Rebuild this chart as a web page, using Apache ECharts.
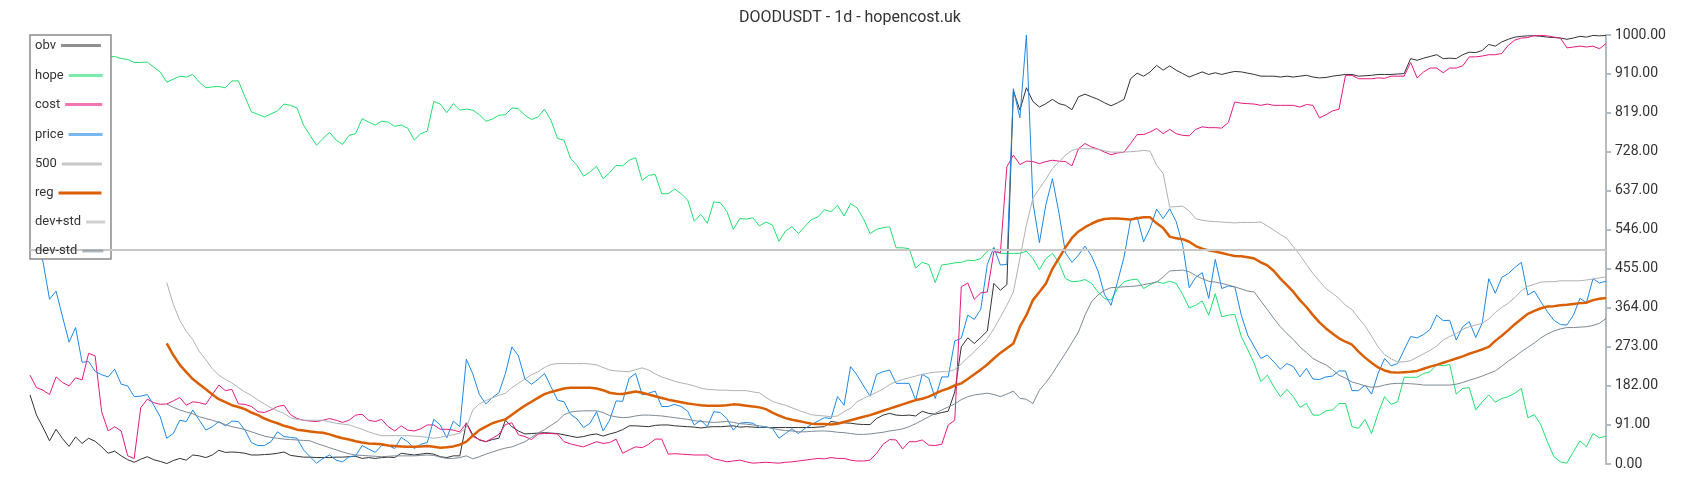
<!DOCTYPE html>
<html>
<head>
<meta charset="utf-8">
<title>DOODUSDT - 1d - hopencost.uk</title>
<script src="https://cdn.jsdelivr.net/npm/echarts@6/dist/echarts.min.js"></script>
<style>
  html, body { margin: 0; padding: 0; background: #fff; }
  #chart { width: 1700px; height: 500px; }
</style>
</head>
<body>
<div id="chart"></div>
<script>
// values, one per day (243 days)
const obv = [
  161, 114, 85, 54, 81, 59, 41, 63, 48, 60,
  53, 40, 25, 30, 19, 10, 4, 11, 17, 10,
  6, 1, 8, 13, 9, 21, 19, 15, 21, 32,
  27, 28, 27, 25, 21, 21, 22, 23, 25, 28,
  20, 18, 16, 16, 15, 15, 15, 16, 16, 17,
  18, 13, 15, 13, 15, 16, 15, 25, 23, 21,
  23, 25, 23, 17, 15, 19, 19, 96, 68, 56,
  52, 57, 60, 102, 87, 77, 70, 71, 72, 73,
  72, 71, 68, 65, 62, 64, 68, 70, 65, 70,
  74, 80, 89, 89, 88, 87, 90, 91, 91, 89,
  88, 87, 86, 84, 86, 87, 87, 88, 89, 86,
  87, 86, 85, 85, 85, 85, 85, 85, 85, 85,
  85, 86, 87, 99, 97, 96, 95, 93, 92, 92,
  106, 114, 118, 114, 113, 114, 112, 123, 118, 116,
  120, 123, 168, 273, 294, 281, 295, 310, 421, 405,
  418, 870, 825, 877, 845, 832, 840, 850, 840, 836,
  826, 856, 862, 856, 850, 842, 835, 842, 850, 898,
  911, 904, 914, 929, 918, 928, 918, 910, 902, 908,
  914, 908, 912, 908, 912, 915, 914, 911, 908, 904,
  904, 904, 902, 904, 902, 904, 906, 902, 900, 901,
  904, 906, 908, 908, 904, 905, 906, 908, 908, 908,
  909, 910, 945, 941, 946, 950, 954, 945, 946, 945,
  954, 960, 959, 964, 978, 974, 984, 990, 995, 997,
  998, 998, 997, 995, 994, 993, 990, 993, 997, 995,
  999, 998, 999
];

const hope = [
  990, 985, 980, 978, 975, 970, 968, 965, 962, 958,
  955, 952, 949, 950, 945, 943, 936, 936, 937, 925,
  914, 890, 897, 904, 902, 908, 890, 877, 879, 880,
  877, 893, 893, 856, 821, 815, 809, 816, 823, 839,
  836, 830, 790, 766, 743, 759, 773, 755, 745, 766,
  770, 805, 797, 790, 799, 797, 787, 790, 783, 755,
  770, 776, 845, 839, 819, 840, 825, 827, 825, 814,
  799, 804, 813, 814, 830, 828, 813, 803, 809, 827,
  801, 759, 755, 712, 696, 671, 681, 694, 665, 679,
  696, 695, 708, 714, 661, 673, 675, 630, 630, 641,
  630, 615, 566, 582, 561, 611, 609, 589, 547, 572,
  571, 574, 555, 564, 557, 519, 543, 553, 537, 554,
  570, 576, 593, 588, 603, 578, 607, 597, 571, 537,
  547, 551, 553, 504, 504, 502, 457, 470, 465, 423,
  464, 466, 469, 470, 475, 474, 479, 496, 502, 491,
  491, 491, 491, 496, 479, 453, 479, 491, 469, 432,
  425, 426, 430, 421, 401, 386, 382, 409, 425, 429,
  431, 409, 418, 425, 421, 426, 421, 395, 364, 370,
  380, 347, 397, 343, 347, 349, 297, 266, 234, 192,
  207, 180, 157, 174, 157, 132, 141, 114, 114, 124,
  126, 141, 141, 87, 83, 104, 71, 118, 157, 139,
  145, 202, 202, 202, 211, 215, 232, 229, 232, 163,
  176, 178, 126, 145, 161, 144, 153, 157, 165, 176,
  108, 115, 91, 52, 17, 5, 2, 29, 54, 40,
  71, 61, 65
];

const cost = [
  207, 178, 172, 162, 203, 190, 182, 201, 196, 258,
  252, 122, 77, 87, 77, 19, 13, 131, 151, 143,
  139, 140, 147, 155, 137, 145, 143, 139, 162, 184,
  171, 174, 140, 139, 134, 122, 120, 126, 134, 137,
  115, 106, 102, 100, 99, 102, 106, 102, 97, 102,
  114, 116, 102, 99, 104, 87, 77, 89, 79, 77,
  82, 91, 91, 81, 81, 79, 75, 95, 64, 57,
  52, 60, 69, 92, 96, 68, 64, 57, 70, 71,
  71, 70, 52, 47, 43, 40, 46, 52, 48, 50,
  58, 25, 33, 40, 38, 46, 58, 58, 23, 24,
  23, 22, 21, 21, 21, 12, 9, 5, 7, 9,
  5, 2, 3, 4, 3, 2, 4, 5, 7, 9,
  11, 13, 12, 15, 13, 13, 9, 7, 7, 9,
  25, 46, 57, 56, 35, 52, 52, 56, 44, 43,
  46, 91, 102, 413, 422, 384, 399, 401, 495, 492,
  693, 720, 698, 706, 705, 700, 705, 708, 706, 705,
  695, 735, 747, 739, 734, 727, 721, 725, 727, 747,
  768, 768, 774, 782, 770, 780, 770, 766, 765, 780,
  786, 784, 784, 783, 796, 844, 841, 840, 839, 836,
  839, 836, 836, 836, 836, 832, 838, 836, 807, 814,
  823, 827, 906, 906, 898, 898, 898, 900, 899, 904,
  904, 904, 936, 900, 914, 923, 923, 912, 923, 923,
  928, 949, 949, 951, 954, 954, 957, 976, 988, 993,
  994, 999, 999, 998, 995, 993, 970, 972, 974, 972,
  974, 968, 980
];

const price = [
  560, 520, 471, 384, 403, 343, 284, 318, 237, 239,
  216, 208, 203, 221, 186, 182, 157, 158, 162, 137,
  110, 60, 71, 102, 99, 126, 102, 79, 87, 99,
  89, 100, 99, 79, 50, 43, 43, 52, 75, 64,
  62, 60, 33, 17, 2, 13, 21, 9, 5, 17,
  19, 43, 35, 27, 43, 43, 36, 62, 52, 36,
  46, 50, 104, 91, 61, 100, 87, 244, 210, 162,
  140, 155, 166, 211, 273, 252, 198, 186, 197, 211,
  180, 149, 145, 116, 105, 85, 95, 122, 77, 102,
  147, 146, 200, 211, 161, 165, 170, 134, 134, 139,
  134, 123, 91, 102, 87, 122, 120, 106, 79, 95,
  97, 95, 85, 87, 83, 60, 71, 82, 71, 83,
  92, 100, 108, 106, 157, 137, 227, 207, 182, 158,
  209, 215, 219, 188, 188, 188, 149, 209, 200, 153,
  203, 203, 287, 293, 347, 337, 361, 465, 505, 464,
  465, 875, 807, 1000, 610, 516, 605, 665, 585, 492,
  470, 487, 508, 485, 450, 395, 370, 425, 483, 568,
  576, 518, 550, 594, 572, 595, 565, 510, 411, 435,
  446, 386, 477, 409, 415, 413, 347, 300, 273, 246,
  254, 238, 221, 234, 227, 203, 223, 198, 197, 203,
  205, 217, 217, 171, 171, 184, 163, 211, 246, 229,
  234, 266, 297, 294, 302, 314, 347, 334, 335, 289,
  320, 332, 295, 329, 432, 398, 435, 444, 458, 470,
  394, 403, 378, 355, 335, 325, 324, 347, 386, 376,
  432, 422, 426
];

// rolling regression line and its bands start on day 22
const reg = [
  null, null, null, null, null, null, null, null, null, null,
  null, null, null, null, null, null, null, null, null, null,
  null, 281, 254, 231, 214, 198, 186, 174, 162, 151,
  144, 137, 133, 128, 120, 114, 106, 100, 95, 89,
  85, 80, 78, 76, 74, 73, 69, 64, 60, 57,
  53, 50, 48, 47, 46, 43, 42, 41, 40, 40,
  41, 42, 40, 38, 39, 41, 45, 52, 66, 79,
  87, 95, 100, 104, 115, 126, 136, 145, 154, 163,
  168, 172, 176, 178, 178, 178, 178, 176, 172, 166,
  164, 163, 166, 169, 166, 162, 158, 154, 150, 147,
  144, 141, 139, 137, 136, 136, 136, 137, 139, 138,
  136, 134, 132, 128, 120, 113, 107, 103, 100, 97,
  94, 93, 93, 92, 94, 98, 102, 106, 110, 114,
  119, 124, 129, 134, 139, 144, 149, 152, 157, 164,
  171, 176, 183, 188, 198, 209, 220, 232, 246, 259,
  270, 281, 320, 347, 382, 401, 421, 455, 480, 505,
  527, 542, 552, 560, 567, 571, 572, 572, 571, 570,
  573, 575, 575, 561, 550, 530, 526, 524, 518, 508,
  502, 498, 495, 492, 488, 485, 484, 482, 479, 470,
  463, 450, 432, 417, 401, 382, 366, 347, 330, 316,
  304, 293, 285, 278, 262, 248, 236, 225, 218, 214,
  213, 214, 215, 217, 222, 227, 231, 236, 241, 246,
  251, 257, 262, 267, 273, 287, 299, 312, 326, 338,
  350, 357, 363, 367, 368, 370, 371, 373, 375, 376,
  382, 385, 387
];

const devPlus = [
  null, null, null, null, null, null, null, null, null, null,
  null, null, null, null, null, null, null, null, null, null,
  null, 423, 372, 335, 309, 290, 262, 243, 222, 207,
  197, 189, 178, 168, 160, 149, 140, 131, 124, 118,
  108, 104, 102, 102, 102, 102, 98, 95, 93, 91,
  86, 81, 75, 70, 66, 66, 66, 66, 66, 65,
  64, 62, 60, 62, 66, 68, 72, 85, 126, 140,
  148, 154, 160, 165, 178, 188, 198, 208, 215, 225,
  232, 234, 234, 234, 234, 234, 233, 231, 225, 219,
  217, 216, 215, 220, 224, 219, 210, 203, 198, 193,
  189, 186, 182, 177, 174, 173, 172, 172, 171, 171,
  171, 168, 166, 155, 146, 141, 137, 131, 125, 120,
  115, 113, 112, 110, 112, 122, 130, 145, 153, 160,
  167, 175, 185, 192, 197, 201, 205, 209, 212, 214,
  215, 215, 220, 233, 248, 262, 277, 292, 315, 342,
  370, 401, 479, 557, 620, 642, 664, 689, 704, 720,
  731, 735, 735, 735, 734, 730, 727, 727, 727, 728,
  729, 731, 729, 696, 677, 599, 600, 601, 590, 572,
  568, 566, 565, 564, 563, 562, 563, 563, 563, 564,
  555, 545, 535, 526, 506, 487, 465, 444, 426, 409,
  398, 386, 370, 360, 340, 322, 298, 273, 255, 245,
  238, 238, 241, 249, 257, 265, 275, 289, 297, 304,
  314, 320, 324, 328, 338, 353, 365, 375, 388, 404,
  414, 419, 424, 425, 425, 427, 427, 427, 427, 429,
  431, 434, 436
];

const devMinus = [
  null, null, null, null, null, null, null, null, null, null,
  null, null, null, null, null, null, null, null, null, null,
  null, 140, 132, 126, 121, 117, 110, 106, 102, 97,
  92, 87, 84, 80, 75, 70, 65, 62, 60, 58,
  57, 56, 55, 54, 48, 43, 38, 33, 28, 24,
  21, 20, 19, 18, 17, 18, 19, 19, 19, 19,
  20, 21, 20, 16, 13, 13, 15, 19, 12, 17,
  23, 28, 33, 37, 40, 46, 52, 62, 72, 80,
  90, 100, 115, 121, 123, 124, 124, 124, 120, 113,
  110, 108, 109, 112, 114, 114, 113, 112, 110, 108,
  106, 104, 101, 99, 98, 97, 98, 99, 97, 94,
  93, 91, 89, 86, 83, 80, 78, 77, 75, 75,
  76, 77, 77, 76, 74, 73, 71, 69, 69, 70,
  72, 74, 77, 79, 82, 87, 94, 102, 110, 118,
  126, 133, 140, 150, 157, 161, 163, 165, 162, 157,
  163, 170, 153, 151, 141, 172, 190, 211, 235, 258,
  283, 308, 347, 378, 394, 405, 411, 412, 413, 414,
  415, 418, 421, 424, 436, 450, 451, 452, 448, 439,
  432, 426, 424, 421, 417, 413, 408, 403, 401, 380,
  360, 339, 320, 304, 290, 273, 260, 246, 238, 231,
  220, 207, 200, 191, 187, 182, 179, 180, 184, 187,
  188, 188, 187, 186, 184, 184, 184, 184, 184, 186,
  190, 195, 200, 205, 211, 217, 228, 240, 250, 262,
  272, 282, 294, 303, 310, 315, 318, 318, 319, 320,
  323, 328, 339
];

const level500 = 500;
const yTicks = [0, 91, 182, 273, 364, 455, 546, 637, 728, 819, 910, 1000];
const days = price.map((_, i) => 'D' + (i + 1));

const names = ['obv', 'hope', 'cost', 'price', '500', 'reg', 'dev+std', 'dev-std'];
const colors = ['#333333', '#20e070', '#e8197f', '#1e88e5', '#c8c8c8', '#d95f02', '#aeb2b6', '#7d8a96'];
const widths = [1, 1, 1, 1, 2, 2.5, 1, 1];
const values = [obv, hope, cost, price, null, reg, devPlus, devMinus];

// legend layout (one legend per entry so the icons end on the same edge)
const legendIconY = [45, 75, 104, 134, 163.5, 192.5, 221.5, 250.5];
const legendIconW = [40, 34, 37, 34, 40, 43, 19, 21];
const legendOpacity = [0.55, 0.6, 0.6, 0.6, 1, 1, 0.6, 0.6];

const chart = echarts.init(document.getElementById('chart'));

const series = names.map((name, k) => {
  const s = {
    name: name,
    type: 'line',
    data: values[k] || [],
    symbol: 'none',
    color: colors[k],
    lineStyle: { color: colors[k], width: widths[k] },
    connectNulls: false
  };
  if (name === '500') {
    s.markLine = {
      symbol: 'none',
      silent: true,
      label: { show: false },
      lineStyle: { color: colors[k], width: widths[k], type: 'solid' },
      emphasis: { disabled: true },
      data: [{ yAxis: level500 }]
    };
  }
  return s;
});

const legends = names.map((name, k) => ({
  data: [name],
  orient: 'horizontal',
  left: 35,
  top: legendIconY[k] - 6,
  align: 'right',
  padding: 0,
  itemGap: 0,
  icon: 'rect',
  itemWidth: legendIconW[k],
  itemHeight: 3,
  selectedMode: false,
  z: 6,
  itemStyle: { opacity: legendOpacity[k] },
  textStyle: { fontSize: 13, color: '#333', fontFamily: 'Roboto' }
}));

chart.setOption({
  animation: false,
  backgroundColor: '#fff',
  title: {
    text: 'DOODUSDT - 1d - hopencost.uk',
    left: 'center',
    top: 5,
    textStyle: { fontSize: 16, fontWeight: 'normal', color: '#333', fontFamily: 'Roboto' }
  },
  legend: legends,
  graphic: {
    elements: [{
      type: 'rect',
      z: 5,
      shape: { x: 30, y: 35, width: 81, height: 224 },
      style: { fill: '#fff', stroke: '#8a8a8a', lineWidth: 1.5 }
    }]
  },
  grid: { left: 30, right: 94, top: 35, bottom: 36 },
  xAxis: {
    type: 'category',
    data: days,
    boundaryGap: false,
    show: false
  },
  yAxis: {
    type: 'value',
    position: 'right',
    min: yTicks[0],
    max: yTicks[yTicks.length - 1],
    interval: yTicks[1],
    splitLine: { show: false },
    axisLine: { show: true, lineStyle: { color: '#b3bbc3', width: 2 } },
    axisTick: { show: true, length: 5, lineStyle: { color: '#b3bbc3', width: 2 } },
    axisLabel: {
      margin: 9,
      color: '#333',
      fontSize: 14,
      fontFamily: 'Roboto',
      formatter: v => v.toFixed(2)
    }
  },
  series: series
});
</script>
</body>
</html>
